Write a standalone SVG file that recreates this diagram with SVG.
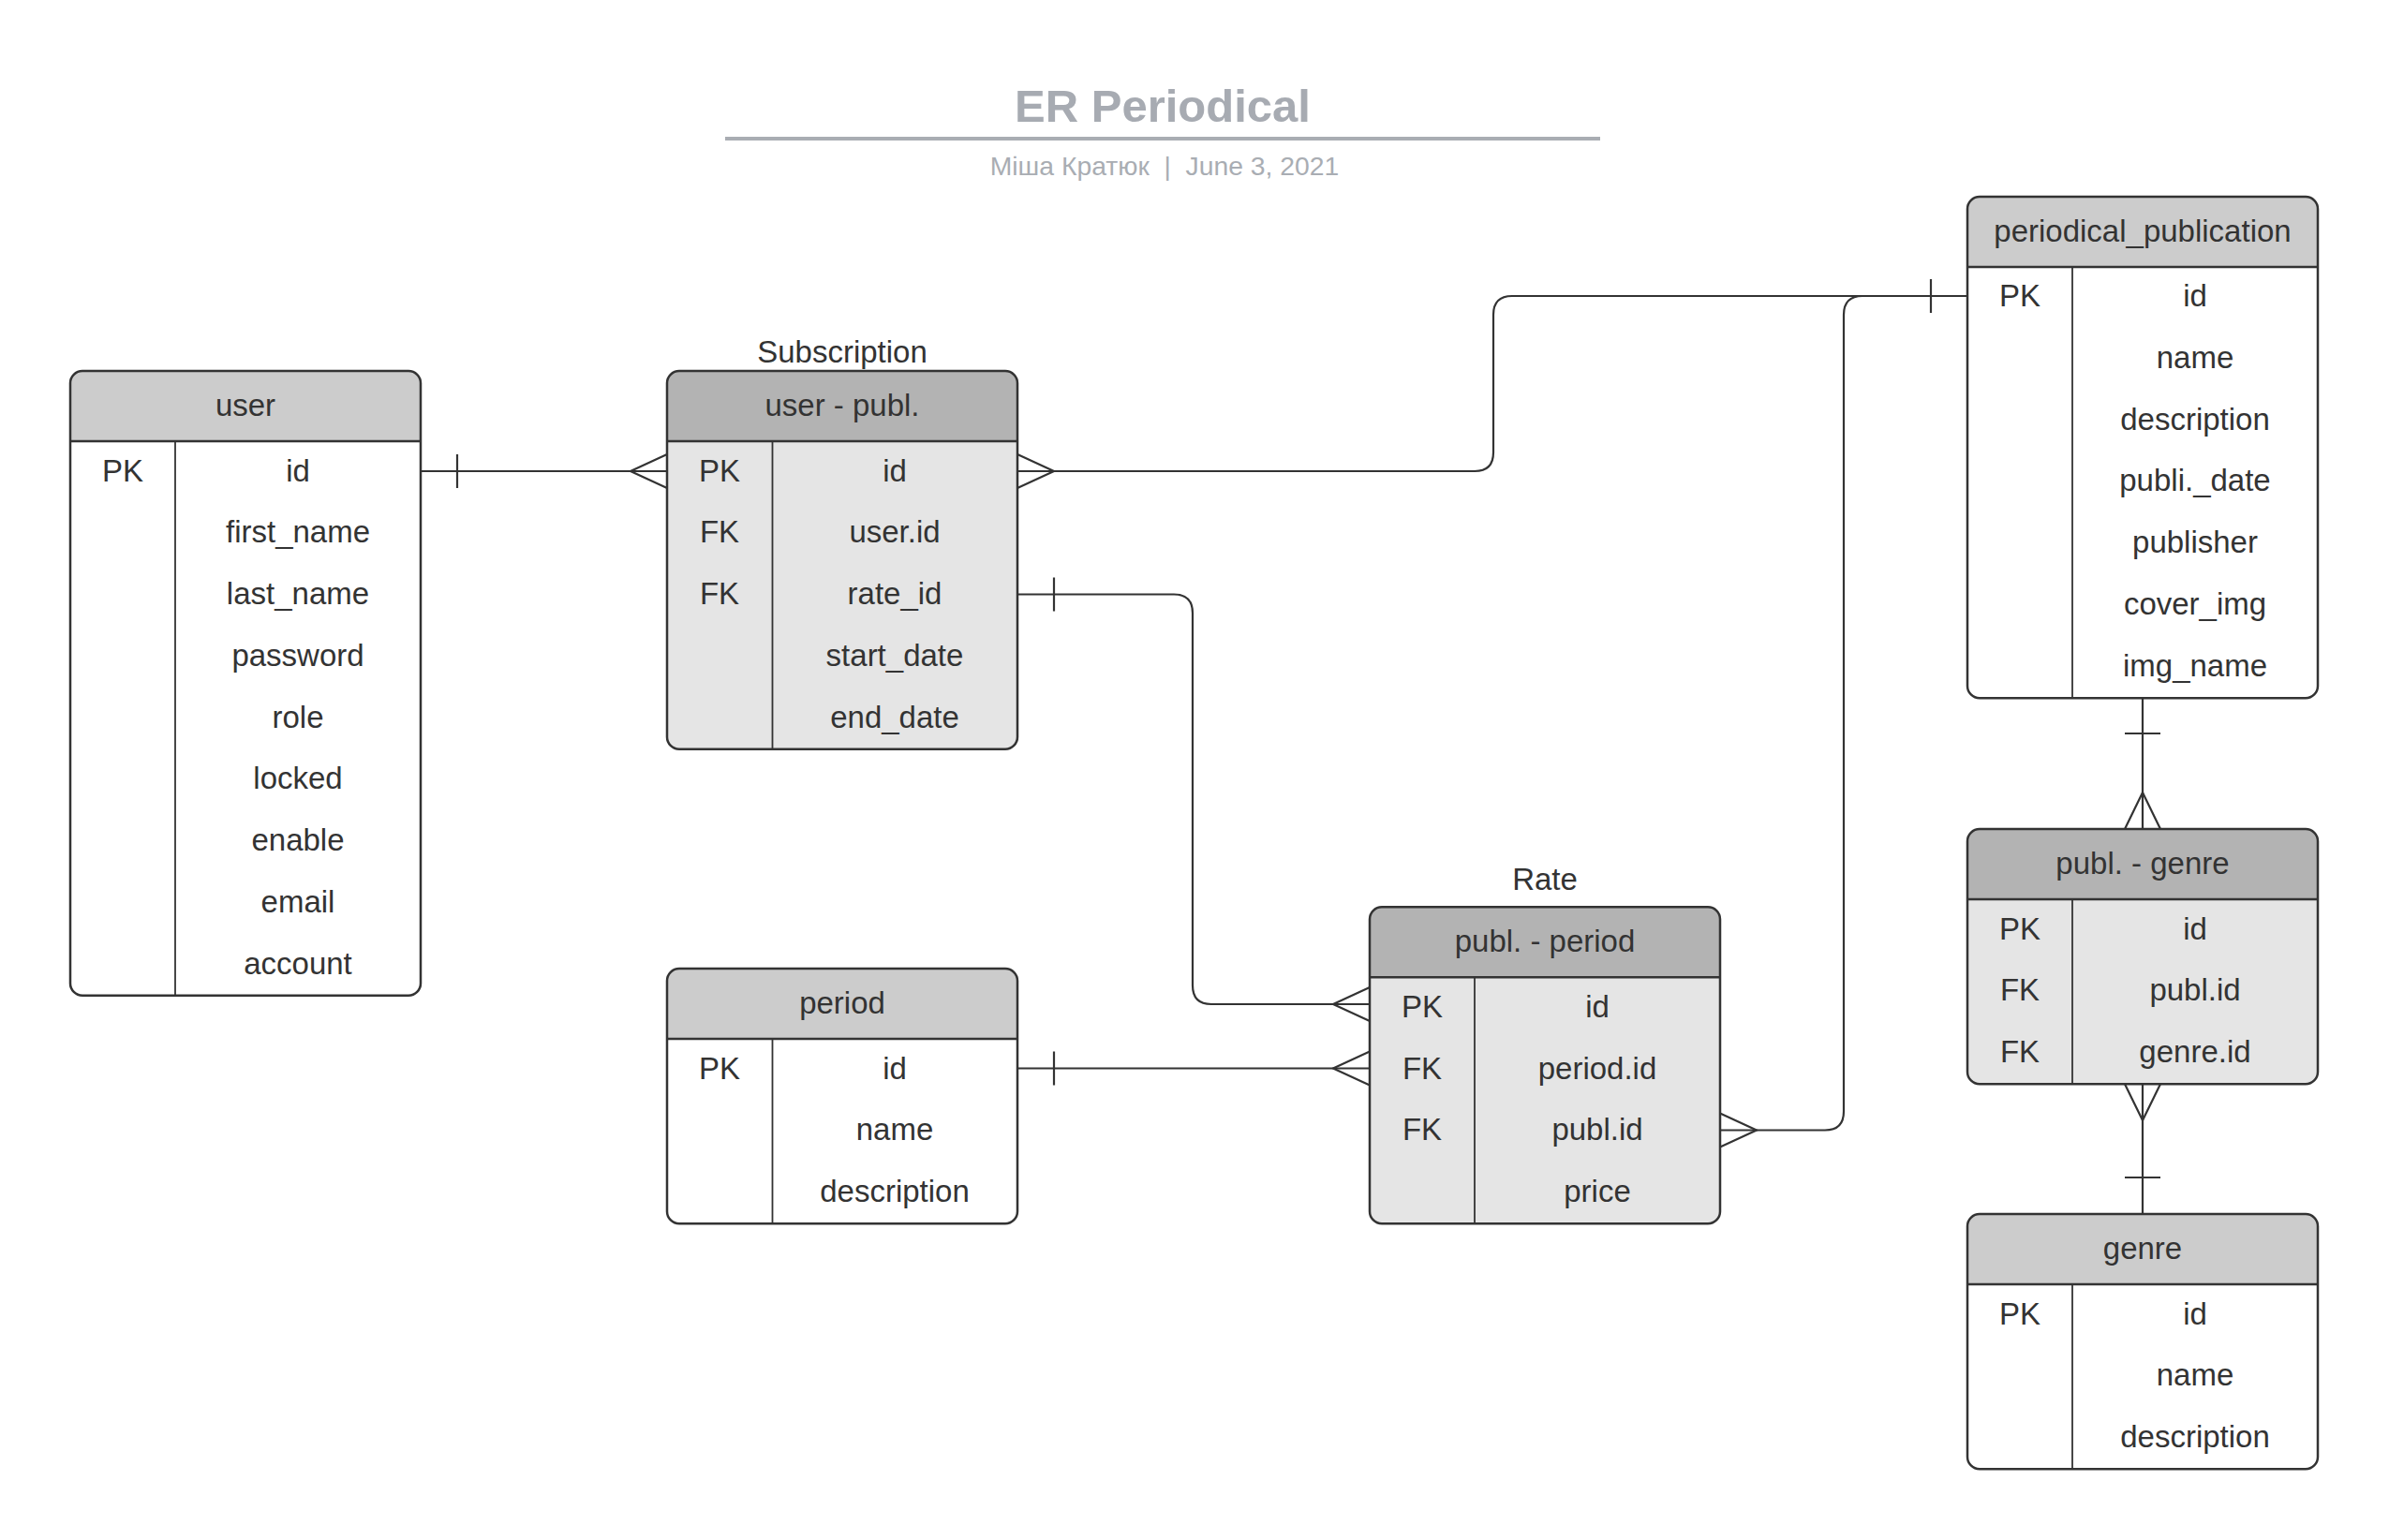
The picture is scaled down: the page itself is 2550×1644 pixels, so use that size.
<svg xmlns="http://www.w3.org/2000/svg" width="2550" height="1644" viewBox="0 0 2550 1644">
<style>
text{font-family:"Liberation Sans",Arial,sans-serif;fill:#333333;font-size:33px;text-anchor:middle}
.title{font-size:49px;font-weight:bold;fill:#a7abb2}
.sub{font-size:28.3px;fill:#a9adb3;white-space:pre}
.outline{fill:none;stroke:#333333;stroke-width:2.5}
.sep{stroke:#333333;stroke-width:2.5}
.div{stroke:#333333;stroke-width:1.8}
.hd1{fill:#cccccc}
.hd2{fill:#b3b3b3}
.bd1{fill:#ffffff}
.bd2{fill:#e5e5e5}
.conn path{fill:none;stroke:#333333;stroke-width:2.2}
</style>
<rect width="2550" height="1644" fill="#ffffff"/>
<g id="title">
<text class="title" x="1241" y="130">ER Periodical</text>
<line x1="774" y1="148" x2="1708" y2="148" stroke="#a9adb3" stroke-width="4"/>
<text class="sub" x="1243" y="187">Міша Кратюк  |  June 3, 2021</text>
</g>

<g id="user">
<rect x="75" y="396" width="374" height="666.75" rx="13" class="bd1"/>
<path d="M75,471 V409 Q75,396 88,396 H436 Q449,396 449,409 V471 Z" class="hd1"/>
<rect x="75" y="396" width="374" height="666.75" rx="13" class="outline"/>
<line x1="75" y1="471" x2="449" y2="471" class="sep"/>
<line x1="187" y1="471" x2="187" y2="1062.75" class="div"/>
<text x="262" y="444">user</text>
<text x="131" y="513.5">PK</text>
<text x="318" y="513.5">id</text>
<text x="318" y="579.2">first_name</text>
<text x="318" y="645">last_name</text>
<text x="318" y="710.7">password</text>
<text x="318" y="776.5">role</text>
<text x="318" y="842.2">locked</text>
<text x="318" y="908">enable</text>
<text x="318" y="973.7">email</text>
<text x="318" y="1039.5">account</text>
</g>

<g id="subscription">
<text x="899" y="387">Subscription</text>
<rect x="712" y="396" width="374" height="403.75" rx="13" class="bd2"/>
<path d="M712,471 V409 Q712,396 725,396 H1073 Q1086,396 1086,409 V471 Z" class="hd2"/>
<rect x="712" y="396" width="374" height="403.75" rx="13" class="outline"/>
<line x1="712" y1="471" x2="1086" y2="471" class="sep"/>
<line x1="824.5" y1="471" x2="824.5" y2="799.75" class="div"/>
<text x="899" y="444">user - publ.</text>
<text x="768" y="513.5">PK</text>
<text x="955" y="513.5">id</text>
<text x="768" y="579.2">FK</text>
<text x="955" y="579.2">user.id</text>
<text x="768" y="645">FK</text>
<text x="955" y="645">rate_id</text>
<text x="955" y="710.7">start_date</text>
<text x="955" y="776.5">end_date</text>
</g>

<g id="period">
<rect x="712" y="1034" width="374" height="272.25" rx="13" class="bd1"/>
<path d="M712,1109 V1047 Q712,1034 725,1034 H1073 Q1086,1034 1086,1047 V1109 Z" class="hd1"/>
<rect x="712" y="1034" width="374" height="272.25" rx="13" class="outline"/>
<line x1="712" y1="1109" x2="1086" y2="1109" class="sep"/>
<line x1="824.5" y1="1109" x2="824.5" y2="1306.25" class="div"/>
<text x="899" y="1082">period</text>
<text x="768" y="1151.5">PK</text>
<text x="955" y="1151.5">id</text>
<text x="955" y="1217.2">name</text>
<text x="955" y="1283">description</text>
</g>

<g id="rate">
<text x="1649" y="950">Rate</text>
<rect x="1462" y="968.25" width="374" height="338" rx="13" class="bd2"/>
<path d="M1462,1043.25 V981.25 Q1462,968.25 1475,968.25 H1823 Q1836,968.25 1836,981.25 V1043.25 Z" class="hd2"/>
<rect x="1462" y="968.25" width="374" height="338" rx="13" class="outline"/>
<line x1="1462" y1="1043.25" x2="1836" y2="1043.25" class="sep"/>
<line x1="1574" y1="1043.25" x2="1574" y2="1306.25" class="div"/>
<text x="1649" y="1016">publ. - period</text>
<text x="1518" y="1085.7">PK</text>
<text x="1705" y="1085.7">id</text>
<text x="1518" y="1151.5">FK</text>
<text x="1705" y="1151.5">period.id</text>
<text x="1518" y="1217.2">FK</text>
<text x="1705" y="1217.2">publ.id</text>
<text x="1705" y="1283">price</text>
</g>

<g id="periodical_publication">
<rect x="2100" y="210" width="374" height="535.25" rx="13" class="bd1"/>
<path d="M2100,285 V223 Q2100,210 2113,210 H2461 Q2474,210 2474,223 V285 Z" class="hd1"/>
<rect x="2100" y="210" width="374" height="535.25" rx="13" class="outline"/>
<line x1="2100" y1="285" x2="2474" y2="285" class="sep"/>
<line x1="2212" y1="285" x2="2212" y2="745.25" class="div"/>
<text x="2287" y="257.5">periodical_publication</text>
<text x="2156" y="327">PK</text>
<text x="2343" y="327">id</text>
<text x="2343" y="392.7">name</text>
<text x="2343" y="458.5">description</text>
<text x="2343" y="524.2">publi._date</text>
<text x="2343" y="590">publisher</text>
<text x="2343" y="655.7">cover_img</text>
<text x="2343" y="721.5">img_name</text>
</g>

<g id="publ_genre">
<rect x="2100" y="885" width="374" height="272.25" rx="13" class="bd2"/>
<path d="M2100,960 V898 Q2100,885 2113,885 H2461 Q2474,885 2474,898 V960 Z" class="hd2"/>
<rect x="2100" y="885" width="374" height="272.25" rx="13" class="outline"/>
<line x1="2100" y1="960" x2="2474" y2="960" class="sep"/>
<line x1="2212" y1="960" x2="2212" y2="1157.25" class="div"/>
<text x="2287" y="933">publ. - genre</text>
<text x="2156" y="1002.5">PK</text>
<text x="2343" y="1002.5">id</text>
<text x="2156" y="1068.2">FK</text>
<text x="2343" y="1068.2">publ.id</text>
<text x="2156" y="1134">FK</text>
<text x="2343" y="1134">genre.id</text>
</g>

<g id="genre">
<rect x="2100" y="1296" width="374" height="272.25" rx="13" class="bd1"/>
<path d="M2100,1371 V1309 Q2100,1296 2113,1296 H2461 Q2474,1296 2474,1309 V1371 Z" class="hd1"/>
<rect x="2100" y="1296" width="374" height="272.25" rx="13" class="outline"/>
<line x1="2100" y1="1371" x2="2474" y2="1371" class="sep"/>
<line x1="2212" y1="1371" x2="2212" y2="1568.25" class="div"/>
<text x="2287" y="1344">genre</text>
<text x="2156" y="1413.5">PK</text>
<text x="2343" y="1413.5">id</text>
<text x="2343" y="1479.2">name</text>
<text x="2343" y="1545">description</text>
</g>

<g id="connectors" class="conn">
<path d="M449,503 H712"/>
<path d="M488,485 V521"/>
<path d="M712,485 L673,503 L712,521"/>

<path d="M1086,503 H1574 Q1594,503 1594,483 V336 Q1594,316 1614,316 H2100"/>
<path d="M1086,485 L1125,503 L1086,521"/>
<path d="M2061,298 V334"/>

<path d="M1086,634.5 H1253 Q1273,634.5 1273,654.5 V1052 Q1273,1072 1293,1072 H1462"/>
<path d="M1125,616.5 V652.5"/>
<path d="M1462,1054 L1423,1072 L1462,1090"/>

<path d="M1086,1140.5 H1462"/>
<path d="M1125,1122.5 V1158.5"/>
<path d="M1462,1122.5 L1423,1140.5 L1462,1158.5"/>

<path d="M1836,1206.5 H1948 Q1968,1206.5 1968,1186.5 V336 Q1968,316 1988,316 H2100"/>
<path d="M1836,1188.5 L1875,1206.5 L1836,1224.5"/>

<path d="M2287,745.25 V885"/>
<path d="M2268,783 H2306"/>
<path d="M2268,885 L2287,846 L2306,885"/>

<path d="M2287,1157.25 V1296"/>
<path d="M2268,1157.25 L2287,1196 L2306,1157.25"/>
<path d="M2268,1257 H2306"/>
</g>
</svg>
